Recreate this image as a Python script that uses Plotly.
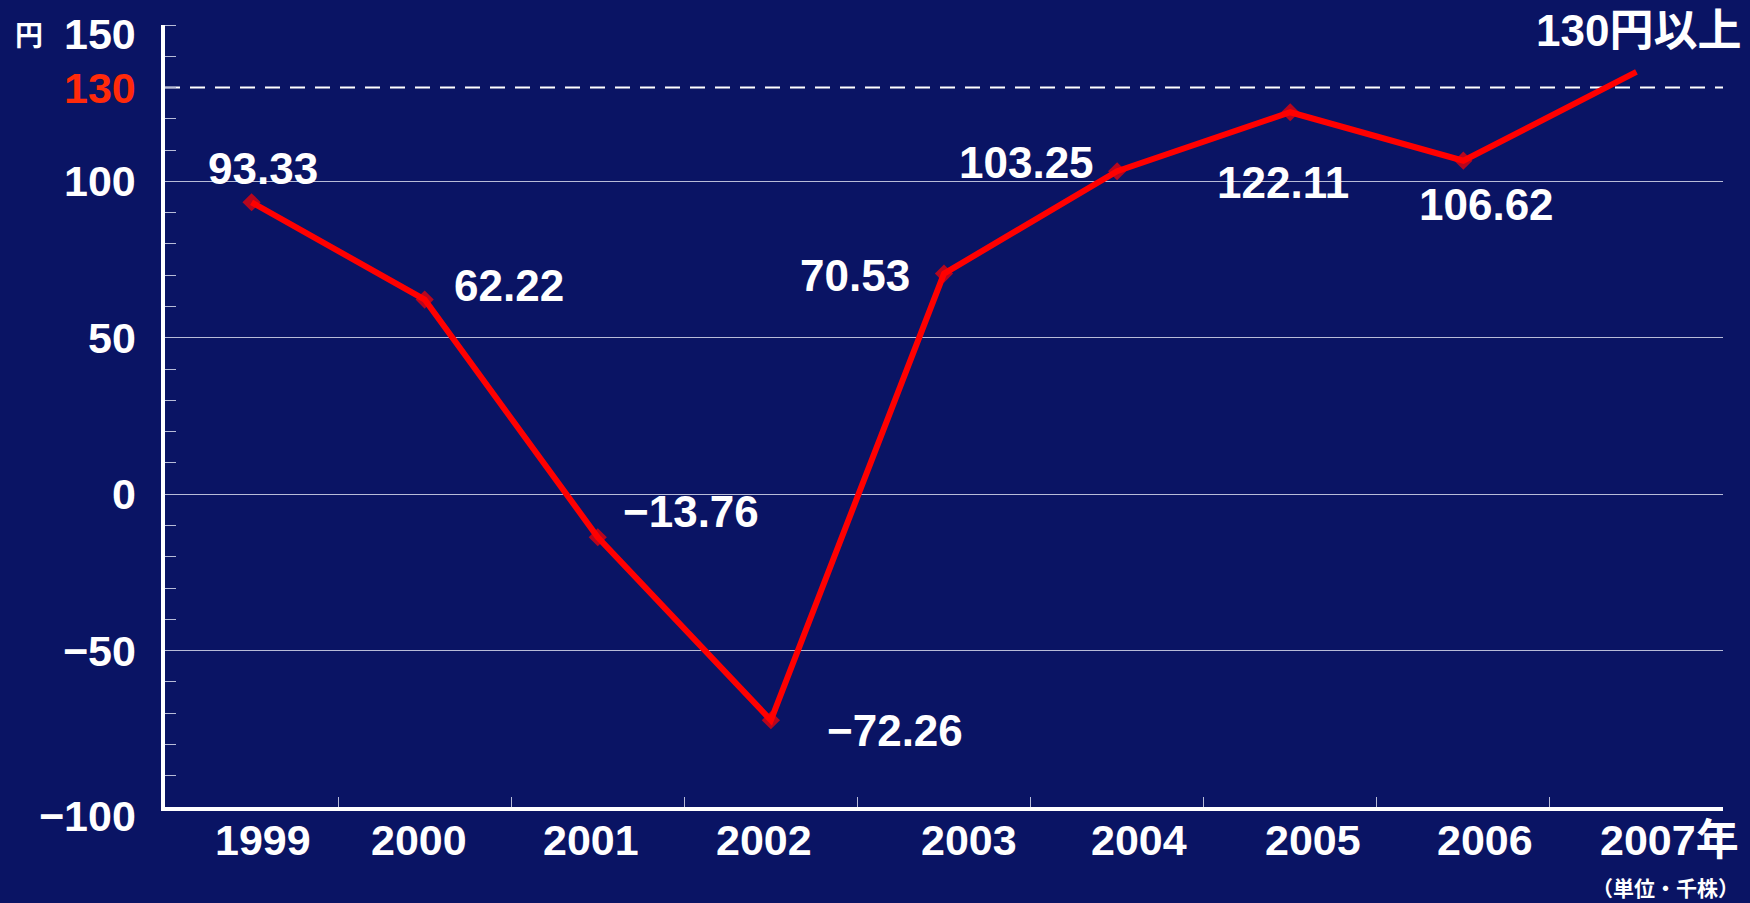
import plotly.graph_objects as go

years = ["1999", "2000", "2001", "2002", "2003", "2004", "2005", "2006", "2007"]
values = [93.33, 62.22, -13.76, -72.26, 70.53, 103.25, 122.11, 106.62, 135.0]
labeled = [True, True, True, True, True, True, True, True, False]
label_shift_x = [11, 84, 93, 124, -89, -91, -7, 23, 0]
label_shift_y = [34, 14, 26, -10, -2, 9, -70, -44, 0]
xlabel_shift = [11, -6, -7, -7, 25, 22, 23, 22, 0]
ytick_vals = [150, 130, 100, 50, 0, -50, -100]
ytick_text = ["150", "130", "100", "50", "0", "−50", "−100"]
target = 130

BG = "#0A1464"
LAT = "Liberation Sans, Arial, Noto Sans CJK JP, sans-serif"
CJK = "Noto Sans CJK JP, Liberation Sans, sans-serif"

fig = go.Figure()
fig.add_trace(go.Scatter(
    x=years, y=values, mode="lines+markers",
    line=dict(color="#FF0000", width=6),
    marker=dict(symbol="diamond", size=[14 if l else 0 for l in labeled], color="#FF0000",
                line=dict(width=0)),
    showlegend=False, hoverinfo="skip",
))

# dashed target line
fig.add_shape(type="line", xref="paper", yref="y", x0=0, x1=1, y0=target, y1=target,
              line=dict(color="white", width=2, dash="15px,10px"), layer="below")

ann = []
for i, (v, l, sx, sy) in enumerate(zip(values, labeled, label_shift_x, label_shift_y)):
    if not l:
        continue
    txt = f"{v:.2f}".replace("-", "−")
    ann.append(dict(x=i, y=v, xref="x", yref="y", text=f"<b>{txt}</b>", showarrow=False,
                    xshift=sx, yshift=sy, font=dict(family=LAT, size=44, color="white")))

# y tick labels
for tv, tt in zip(ytick_vals, ytick_text):
    col = "#FF2A0A" if tv == target else "white"
    ys = -9 if tv in (150, -100) else 0
    ann.append(dict(x=0, y=tv, xref="paper", yref="y", text=f"<b>{tt}</b>", showarrow=False,
                    xanchor="right", xshift=-27, yshift=ys,
                    font=dict(family=LAT, size=43, color=col)))

# x tick labels
for i, (yr, xs) in enumerate(zip(years, xlabel_shift)):
    if i == len(years) - 1:
        ann.append(dict(x=i, y=0, xref="x", yref="paper", text=f"<b>{yr}年</b>", showarrow=False,
                        xanchor="left", yanchor="middle", xshift=-38, yshift=-33,
                        font=dict(family=LAT, size=43, color="white")))
    else:
        ann.append(dict(x=i, y=0, xref="x", yref="paper", text=f"<b>{yr}</b>", showarrow=False,
                        xanchor="center", yanchor="middle", xshift=xs, yshift=-33,
                        font=dict(family=LAT, size=43, color="white")))

ann.append(dict(x=0, y=1, xref="paper", yref="paper", text="<b>円</b>", showarrow=False,
                xanchor="left", yanchor="middle", xshift=-152, yshift=-9,
                font=dict(family=CJK, size=28, color="white")))
ann.append(dict(x=1, y=1, xref="paper", yref="paper", text="<b>130円以上</b>", showarrow=False,
                xanchor="right", yanchor="middle", xshift=20, yshift=-5,
                font=dict(family="Liberation Sans, Noto Sans CJK JP, sans-serif", size=44, color="white")))
ann.append(dict(x=1, y=0, xref="paper", yref="paper", text="<b>（単位・千株）</b>", showarrow=False,
                xanchor="right", yanchor="middle", xshift=18, yshift=-80,
                font=dict(family=CJK, size=21, color="white")))

fig.update_layout(
    width=1750, height=903,
    paper_bgcolor=BG, plot_bgcolor=BG,
    margin=dict(l=165, r=27, t=25, b=96),
    annotations=ann,
    xaxis=dict(type="category", showline=True, linecolor="white", linewidth=4,
               ticks="inside", ticklen=10, tickcolor="#B8BCD8", tickwidth=1,
               tickson="boundaries", showticklabels=False, showgrid=False, zeroline=False,
               range=[-0.5, 8.5], fixedrange=True),
    yaxis=dict(range=[-100, 150], showline=True, linecolor="white", linewidth=4,
               tickvals=[-50, 0, 50, 100], showticklabels=False, ticks="",
               showgrid=True, gridcolor="#B8BCD8", gridwidth=1, zeroline=False,
               minor=dict(tickvals=list(range(-90, 151, 10)), ticks="inside", ticklen=11,
                          tickcolor="#B8BCD8", tickwidth=1, showgrid=False),
               fixedrange=True),
)

fig.write_html("out.html", config={"displayModeBar": False},
               post_script="document.body.style.margin='0';")
